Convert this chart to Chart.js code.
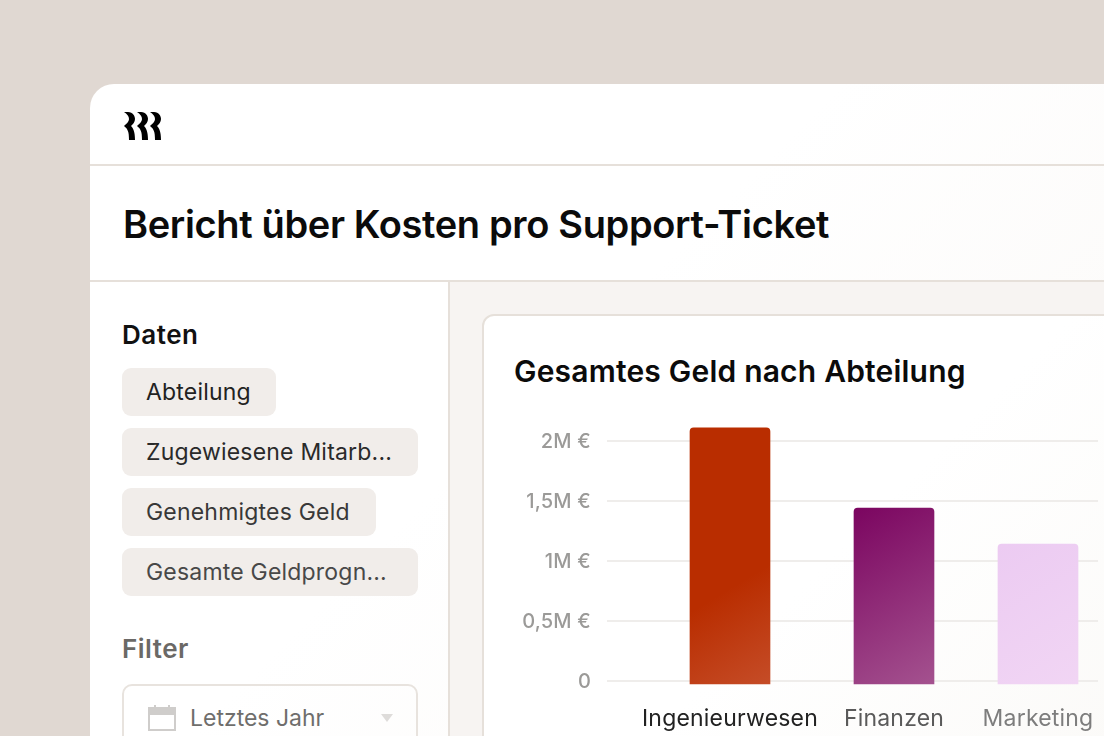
<!DOCTYPE html>
<html lang="de">
<head>
<meta charset="utf-8">
<title>Bericht über Kosten pro Support-Ticket</title>
<script src="https://cdn.jsdelivr.net/npm/chart.js@4"></script>
<style>
  html, body { margin: 0; width: 1104px; height: 736px; overflow: hidden; background: #e0d8d2; font-family: Inter, sans-serif; }
  .abs { position: absolute; white-space: nowrap; }
  #panneau { left: 90px; top: 84px; width: 1014px; height: 652px; border-radius: 24px 0 0 0; overflow: hidden; background: linear-gradient(135deg, #ffffff 45%, #faf8f6 100%); }
  #filet-haut { left: 90px; top: 164px; width: 1014px; height: 2px; background: #e6e0da; }
  #filet-titre { left: 90px; top: 280px; width: 1014px; height: 2px; background: #e6e0da; }
  #fond-principal { left: 450px; top: 282px; width: 654px; height: 454px; background: #f7f4f2; }
  #filet-cote { left: 448px; top: 282px; width: 2px; height: 454px; background: #e6e0da; }
  #carte { left: 482px; top: 314px; width: 640px; height: 440px; box-sizing: border-box; border: 2px solid #e6e0da; border-radius: 12px; background: linear-gradient(135deg, #ffffff 55%, #fbfaf8 100%); }
  #titre { left: 123px; top: 201px; font-size: 38px; font-weight: 600; line-height: 46px; color: #0b0b0b; letter-spacing: -0.35px; }
  #titre-carte { left: 514px; top: 353px; font-size: 30px; font-weight: 600; line-height: 36px; color: #0b0b0b; letter-spacing: 0.2px; }
  .rubrique { left: 122px; font-size: 26px; font-weight: 600; line-height: 32px; letter-spacing: 0.5px; }
  .puce { left: 122px; height: 48px; line-height: 48px; padding-left: 24px; box-sizing: border-box; border-radius: 9px; background: #f1edea; font-size: 23px; letter-spacing: 0.2px; }
  #selecteur { left: 122px; top: 684px; width: 296px; height: 70px; box-sizing: border-box; border: 2px solid #e8e3de; border-radius: 10px; }
  #selecteur-texte { left: 190px; top: 704px; font-size: 23px; line-height: 28px; color: #6f6e6c; }
  #zone-graphique { left: 500px; top: 420px; width: 604px; height: 316px; }
</style>
</head>
<body>
<div class="abs" id="panneau"></div>
<div class="abs" id="filet-haut"></div>
<div class="abs" id="filet-titre"></div>
<div class="abs" id="fond-principal"></div>
<div class="abs" id="filet-cote"></div>
<div class="abs" id="carte"></div>

<svg class="abs" style="left:124px;top:112px" width="38" height="28" viewBox="0 0 38 28">
  <path id="vague" fill="#000" d="M0 0 H4 C9 0 11 4 11 7 C11 10 9 12 7 14 C9 16 11 19 11 28 H5 C5 20 4 17 0 14 C2 12 5 10 5 7 C5 4 3 2 0 0 Z"/>
  <use href="#vague" x="13"/>
  <use href="#vague" x="26"/>
</svg>

<div class="abs" id="titre">Bericht über Kosten pro Support-Ticket</div>

<div class="abs rubrique" style="top:319px;color:#111">Daten</div>
<div class="abs puce" style="top:368px;width:154px;color:#222">Abteilung</div>
<div class="abs puce" style="top:428px;width:296px;color:#2a2a2a">Zugewiesene Mitarb...</div>
<div class="abs puce" style="top:488px;width:254px;color:#383838">Genehmigtes Geld</div>
<div class="abs puce" style="top:548px;width:296px;color:#484848">Gesamte Geldprogn...</div>
<div class="abs rubrique" style="top:633px;color:#6b6966">Filter</div>
<div class="abs" id="selecteur"></div>
<svg class="abs" style="left:146px;top:704px" width="32" height="28" viewBox="0 0 32 28">
  <rect x="3" y="4" width="26" height="22" fill="none" stroke="#cfcdcb" stroke-width="2"/>
  <rect x="3" y="4" width="26" height="7" fill="#cfcdcb"/>
  <rect x="8" y="1" width="2" height="4" fill="#cfcdcb"/>
  <rect x="22" y="1" width="2" height="4" fill="#cfcdcb"/>
</svg>
<div class="abs" id="selecteur-texte">Letztes Jahr</div>
<svg class="abs" style="left:380px;top:713px" width="14" height="10" viewBox="0 0 14 10">
  <path d="M1 1 H13 L7 9 Z" fill="#dedcda"/>
</svg>

<div class="abs" id="titre-carte">Gesamtes Geld nach Abteilung</div>
<div class="abs" id="zone-graphique"><canvas id="graphique" width="604" height="316"></canvas></div>

<script>
'use strict';

/* === DONNÉES === */
const abteilungen = ['Ingenieurwesen', 'Finanzen', 'Marketing'];
const gesamtesGeld = [2110000, 1440000, 1140000];
const graduations = [0, 500000, 1000000, 1500000, 2000000];
const etiquettesGraduations = ['0', '0,5M €', '1M €', '1,5M €', '2M €'];

/* === STYLES === */
const COULEURS_ETIQUETTES = ['#222222', '#5a5a5a', '#7d7d7d'];
const DEGRADES = [
  [[0, '#b92d00'], [0.53, '#b92d00'], [0.87, '#c54c27']],
  [[0, '#7b0560'], [0.94, '#a4528f']],
  [[0, '#eccbf2'], [0.98, '#f1d5f4']]
];

/* === ÉCHELLE === */

// les colonnes de la maquette ne sont pas régulièrement espacées
class EchelleColonnes extends Chart.CategoryScale {
  static id = 'colonnes';
  getPixelForValue(valeur) {
    return this.getPixelForDecimal(this.options.repartition[valeur]);
  }
}
Chart.register(EchelleColonnes);

// le canvas remet letterSpacing à zéro quand il est dimensionné
const espacementLettres = {
  id: 'espacementLettres',
  beforeDraw: chart => { chart.ctx.letterSpacing = '0.2px'; }
};

/* === RENDU === */

function couleurBarre(context) {
  const { chart, dataIndex } = context;
  const { x, y } = chart.scales;
  if (!x || !y || !chart.chartArea) return DEGRADES[dataIndex][0][1];
  const gauche = x.getPixelForValue(dataIndex) - 40;
  const haut = y.getPixelForValue(gesamtesGeld[dataIndex]);
  const hauteur = y.getPixelForValue(0) + 3 - haut;
  const degrade = chart.ctx.createLinearGradient(gauche, haut, gauche + hauteur * 0.6, haut + hauteur);
  DEGRADES[dataIndex].forEach(([position, couleur]) => degrade.addColorStop(position, couleur));
  return degrade;
}

new Chart(document.getElementById('graphique'), {
  type: 'bar',
  plugins: [espacementLettres],
  data: {
    labels: abteilungen,
    datasets: [{
      data: gesamtesGeld,
      base: -25000,
      barThickness: 80,
      backgroundColor: couleurBarre,
      borderRadius: { topLeft: 4, topRight: 4, bottomLeft: 0, bottomRight: 0 },
      borderSkipped: false,
      clip: false
    }]
  },
  options: {
    responsive: false,
    animation: false,
    layout: { padding: { top: 21, right: 6 } },
    plugins: { legend: { display: false }, tooltip: { enabled: false } },
    scales: {
      x: {
        type: 'colonnes',
        repartition: [0.2505, 0.5845, 0.8778],
        afterFit: scale => {
          scale.height = 55;
          scale.paddingLeft = 0;
          scale.paddingRight = 0;
        },
        grid: { display: false },
        border: { display: false },
        ticks: {
          autoSkip: false,
          maxRotation: 0,
          padding: 16,
          font: { family: 'Inter', size: 23 },
          color: ctx => COULEURS_ETIQUETTES[ctx.index]
        }
      },
      y: {
        min: 0,
        max: 2000000,
        afterFit: scale => {
          scale.width = 107;
          scale.paddingTop = 0;
          scale.paddingBottom = 0;
        },
        afterBuildTicks: scale => { scale.ticks = graduations.map(value => ({ value })); },
        grid: { color: '#efedeb', lineWidth: 2, drawTicks: false },
        border: { display: false },
        ticks: {
          padding: 16,
          labelOffset: 1,
          font: { family: 'Inter', size: 20, weight: '500' },
          color: '#9b9a98',
          callback: value => etiquettesGraduations[graduations.indexOf(value)]
        }
      }
    }
  }
});
</script>
</body>
</html>
